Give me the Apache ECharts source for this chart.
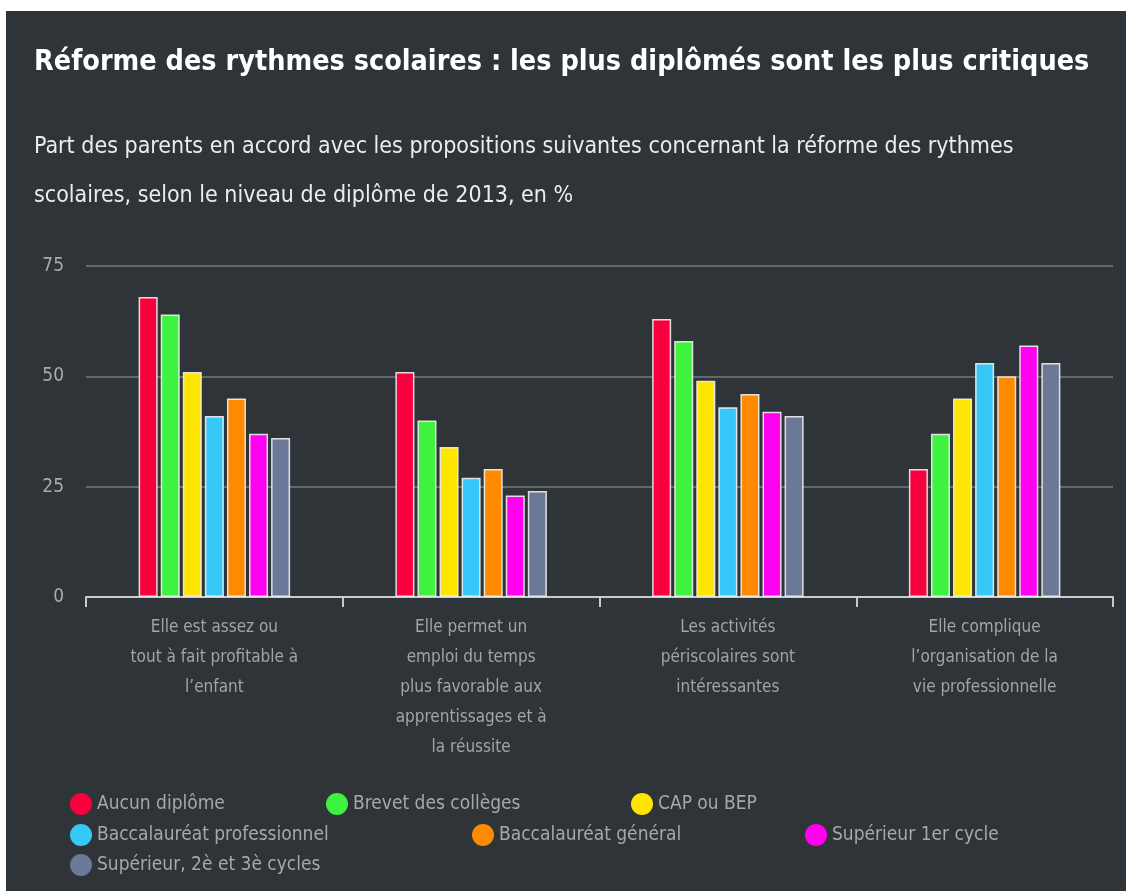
<!DOCTYPE html>
<html>
<head>
<meta charset="utf-8">
<script src="https://cdn.jsdelivr.net/npm/echarts@6/dist/echarts.min.js"></script>
<style>
  html, body { margin: 0; padding: 0; background: #ffffff; }
  #chart { position: absolute; left: 6px; top: 11px; width: 1120px; height: 880px; }
</style>
</head>
<body>
<div id="chart"></div>
<script>
var categories = [
  "Elle est assez ou\ntout à fait profitable à\nl’enfant",
  "Elle permet un\nemploi du temps\nplus favorable aux\napprentissages et à\nla réussite",
  "Les activités\npériscolaires sont\nintéressantes",
  "Elle complique\nl’organisation de la\nvie professionnelle"
];
var seriesNames = [
  "Aucun diplôme",
  "Brevet des collèges",
  "CAP ou BEP",
  "Baccalauréat professionnel",
  "Baccalauréat général",
  "Supérieur 1er cycle",
  "Supérieur, 2è et 3è cycles"
];
var aucunDiplome   = [68, 51, 63, 29];
var brevet         = [64, 40, 58, 37];
var capBep         = [51, 34, 49, 45];
var bacPro         = [41, 27, 43, 53];
var bacGeneral     = [45, 29, 46, 50];
var superieur1     = [37, 23, 42, 57];
var superieur23    = [36, 24, 41, 53];
var yTicks = [0, 25, 50, 75];

var seriesValues = [aucunDiplome, brevet, capBep, bacPro, bacGeneral, superieur1, superieur23];
var colors = ["#f8003e", "#3ff23f", "#ffe600", "#35c8f8", "#ff8a00", "#ff00f0", "#6c7898"];

var FONT = '"DejaVu Sans Condensed", "Liberation Sans Narrow", "Roboto Condensed", "Open Sans", sans-serif';

var legendPos = [
  [64, 782], [320, 782], [625, 782],
  [64, 813], [466, 813], [799, 813],
  [64, 843]
];

var chart = echarts.init(document.getElementById('chart'), null, { renderer: 'canvas' });

var option = {
  backgroundColor: '#2e3437',
  animation: false,
  title: [
    {
      text: 'Réforme des rythmes scolaires : les plus diplômés sont les plus critiques',
      left: 23, top: 32,
      textStyle: { color: '#ffffff', fontSize: 28.5, fontWeight: 'bold', fontFamily: FONT }
    },
    {
      text: 'Part des parents en accord avec les propositions suivantes concernant la réforme des rythmes\nscolaires, selon le niveau de diplôme de 2013, en %',
      left: 23, top: 107,
      textStyle: { color: '#ececec', fontSize: 23, fontWeight: 'normal', lineHeight: 49, fontFamily: FONT }
    }
  ],
  legend: seriesNames.map(function (name, i) {
    return {
      data: [name],
      left: legendPos[i][0], top: legendPos[i][1],
      padding: 0,
      icon: 'circle', itemWidth: 22, itemHeight: 22,
      itemStyle: { borderWidth: 0 },
      textStyle: { color: '#a6a8aa', fontSize: 19, fontFamily: FONT },
      selectedMode: false
    };
  }),
  grid: { left: 80, right: 13, top: 255, bottom: 294, containLabel: false },
  xAxis: {
    type: 'category',
    data: categories,
    axisLine: { lineStyle: { color: '#c9cbcc', width: 2 } },
    axisTick: { show: true, length: 10, lineStyle: { color: '#c9cbcc', width: 2 } },
    axisLabel: { color: '#a2a5a7', fontSize: 17, lineHeight: 30, margin: 16, fontFamily: FONT, interval: 0 }
  },
  yAxis: {
    type: 'value',
    min: yTicks[0], max: yTicks[yTicks.length - 1], interval: 25,
    axisLine: { show: false },
    axisTick: { show: false },
    axisLabel: { color: '#a8aaac', fontSize: 19, margin: 22, fontFamily: FONT },
    splitLine: { lineStyle: { color: '#62686b', width: 2 } }
  },
  series: seriesValues.map(function (vals, i) {
    return {
      name: seriesNames[i],
      type: 'bar',
      data: vals,
      barCategoryGap: '41%',
      barGap: '16%',
      itemStyle: { color: colors[i], borderColor: 'rgba(240,240,240,0.9)', borderWidth: 1.5 }
    };
  })
};
chart.setOption(option);
</script>
</body>
</html>
